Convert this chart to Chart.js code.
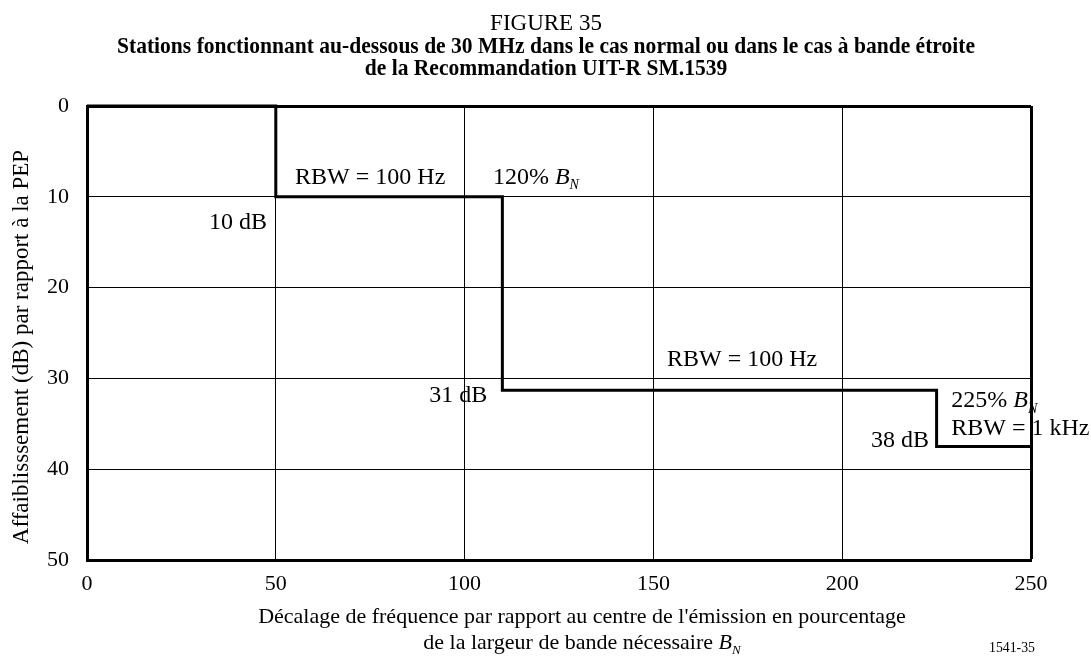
<!DOCTYPE html>
<html>
<head>
<meta charset="utf-8">
<script src="https://cdn.jsdelivr.net/npm/chart.js@4/dist/chart.umd.min.js"></script>
<style>
  body { margin: 0; background: #fff; }
  #wrap { width: 1091px; height: 657px; position: relative; }
</style>
</head>
<body>
<div id="wrap"><canvas id="chart"></canvas></div>
<script>
// frequency offset (% of B_N) where the mask changes, and attenuation (dB)
const xValues = [0, 50, 110, 225, 250];
const yValues = [0, 10, 31.3, 37.5, 37.5];

const xTicks = [0, 50, 100, 150, 200, 250];
const yTicks = [0, 10, 20, 30, 40, 50];

// text notes on the plot: [x, y, align, parts]
const notes = [
  [75, 8.6, "center", [{ t: "RBW = 100 Hz" }]],
  [107.5, 8.6, "left", [{ t: "120% " }, { t: "B", it: true }, { t: "N", it: true, sub: true }]],
  [47.7, 13.5, "right", [{ t: "10 dB" }]],
  [173.5, 28.6, "center", [{ t: "RBW = 100 Hz" }]],
  [106, 32.6, "right", [{ t: "31 dB" }]],
  [228.9, 33.2, "left", [{ t: "225% " }, { t: "B", it: true }, { t: "N", it: true, sub: true }]],
  [228.9, 36.2, "left", [{ t: "RBW = 1 kHz" }]],
  [223, 37.5, "right", [{ t: "38 dB" }]]
];

const FAMILY = "'Liberation Serif', 'DejaVu Serif', serif";
Chart.defaults.font.family = FAMILY;
Chart.defaults.color = "#000";

function fontFor(p, size) {
  const s = p.sub ? Math.round(size * 0.6) : size;
  return (p.it ? "italic " : "") + s + "px " + FAMILY;
}

function drawRich(ctx, x, y, parts, align, size) {
  let total = 0;
  const widths = parts.map((p) => {
    ctx.font = fontFor(p, size);
    const w = ctx.measureText(p.t).width;
    total += w;
    return w;
  });
  let cx = x;
  if (align === "center") cx = x - total / 2;
  if (align === "right") cx = x - total;
  ctx.textAlign = "left";
  ctx.textBaseline = "alphabetic";
  parts.forEach((p, i) => {
    ctx.font = fontFor(p, size);
    ctx.fillText(p.t, cx, y + (p.sub ? size * 0.22 : 0));
    cx += widths[i];
  });
}

const textPlugin = {
  id: "texts",
  afterDraw(chart) {
    const ctx = chart.ctx;
    const xs = chart.scales.x;
    const ys = chart.scales.y;
    ctx.save();
    ctx.fillStyle = "#000";

    // figure title
    ctx.textAlign = "center";
    ctx.textBaseline = "alphabetic";
    ctx.font = "23px " + FAMILY;
    ctx.fillText("FIGURE 35", 546, 30);
    ctx.font = "bold 23px " + FAMILY;
    const l2 = "Stations fonctionnant au-dessous de 30 MHz dans le cas normal ou dans le cas à bande étroite";
    const l3 = "de la Recommandation UIT-R SM.1539";
    const ratio = Math.min(1, 858 / ctx.measureText(l2).width);
    ctx.fillText(l2, 546, 53, 858);
    ctx.fillText(l3, 546, 75, ctx.measureText(l3).width * ratio);

    // notes on the plot
    notes.forEach(([x, y, align, parts]) => {
      drawRich(ctx, xs.getPixelForValue(x), ys.getPixelForValue(y), parts, align, 24);
    });

    // y axis title
    ctx.save();
    ctx.translate(28, 347);
    ctx.rotate(-Math.PI / 2);
    ctx.textAlign = "center";
    ctx.font = "23px " + FAMILY;
    ctx.fillText("Affaiblisssement (dB) par rapport à la PEP", 0, 0);
    ctx.restore();

    // x axis title
    ctx.textAlign = "center";
    ctx.font = "22px " + FAMILY;
    ctx.fillText("Décalage de fréquence par rapport au centre de l'émission en pourcentage", 582, 623);
    drawRich(ctx, 582, 649, [
      { t: "de la largeur de bande nécessaire " },
      { t: "B", it: true },
      { t: "N", it: true, sub: true }
    ], "center", 22);

    ctx.textAlign = "center";
    ctx.font = "15px " + FAMILY;
    ctx.fillText("1541-35", 1012, 652, 46);
    ctx.restore();
  }
};

const edgeWidth = (c, edges) => (edges.includes(c.tick.value) ? 3 : 1);

new Chart(document.getElementById("chart"), {
  type: "line",
  data: {
    datasets: [{
      data: xValues.map((x, i) => ({ x, y: yValues[i] })),
      stepped: "before",
      borderColor: "#000",
      borderWidth: 3,
      pointRadius: 0,
      fill: false,
      clip: 6
    }]
  },
  options: {
    responsive: true,
    maintainAspectRatio: false,
    animation: false,
    layout: { padding: { top: 106, right: 60, left: 0, bottom: 0 } },
    plugins: {
      legend: { display: false },
      tooltip: { enabled: false }
    },
    scales: {
      x: {
        type: "linear",
        min: 0,
        max: 250,
        afterBuildTicks: (s) => { s.ticks = xTicks.map((v) => ({ value: v })); },
        afterFit: (s) => { s.height = 97; },
        ticks: { font: { size: 22 }, padding: 11, color: "#000" },
        grid: {
          color: "#000",
          lineWidth: (c) => edgeWidth(c, [250]),
          drawTicks: false
        },
        border: { display: true, color: "#000", width: 3 }
      },
      y: {
        type: "linear",
        reverse: true,
        min: 0,
        max: 50,
        afterBuildTicks: (s) => { s.ticks = yTicks.map((v) => ({ value: v })); },
        afterFit: (s) => { s.width = 87; },
        ticks: { font: { size: 22 }, padding: 18, color: "#000" },
        grid: {
          color: "#000",
          lineWidth: (c) => edgeWidth(c, [0]),
          drawTicks: false
        },
        border: { display: true, color: "#000", width: 3 }
      }
    }
  },
  plugins: [textPlugin]
});
</script>
</body>
</html>
